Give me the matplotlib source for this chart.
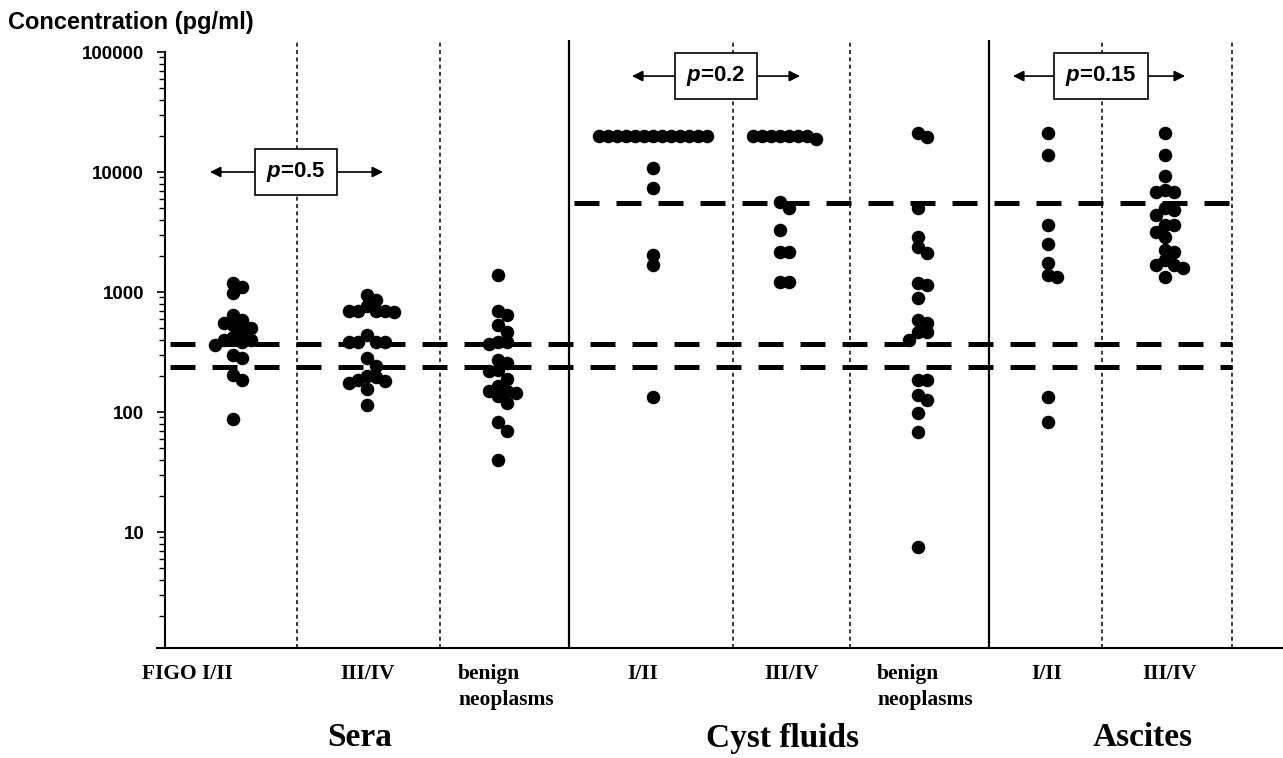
import matplotlib.pyplot as plt
import numpy as np
from matplotlib.ticker import FixedLocator, LogLocator, NullFormatter

plt.rcParams['font.family'] = 'Liberation Sans'
plt.rcParams['mathtext.fontset'] = 'custom'
plt.rcParams['mathtext.it'] = 'Liberation Sans:italic:bold'
plt.rcParams['mathtext.rm'] = 'Liberation Sans:bold'

# values (pg/ml)
sera_I_II = [1180, 1100, 980, 640, 590, 550, 530, 500, 470, 420, 400, 400, 380,
             360, 300, 280, 205, 185, 88]
sera_III_IV = [950, 850, 760, 680, 700, 700, 700, 700, 440, 380, 380, 380, 380,
               280, 240, 200, 195, 185, 180, 175, 155, 115]
sera_benign = [1380, 700, 640, 530, 460, 380, 380, 370, 270, 255, 225, 220, 190,
               165, 150, 150, 145, 135, 120, 83, 70, 40]
cyst_I_II = [20000] * 13 + [10800, 7400, 2050, 1680, 133]
cyst_III_IV = [20000] * 7 + [19000, 5600, 5000, 3300, 2150, 2150, 1210, 1210]
cyst_benign = [21000, 19500, 5000, 2900, 2370, 2100, 1200, 1140, 890, 590, 550,
               460, 460, 400, 185, 185, 138, 126, 98, 68, 7.5]
ascites_I_II = [21000, 13800, 3600, 2500, 1740, 1380, 1330, 133, 82]
ascites_III_IV = [21000, 13800, 9300, 7100, 6800, 6800, 5000, 4800, 4400, 3600,
                  3600, 3150, 2870, 2220, 2150, 1860, 1680, 1680, 1580, 1330]

groups = [sera_I_II, sera_III_IV, sera_benign, cyst_I_II, cyst_III_IV,
          cyst_benign, ascites_I_II, ascites_III_IV]
cat_labels = ['FIGO I/II', 'III/IV', 'benign\nneoplasms', 'I/II', 'III/IV',
              'benign\nneoplasms', 'I/II', 'III/IV']
section_labels = ['Sera', 'Cyst fluids', 'Ascites']
cutoffs = [370, 235, 5500]
p_values = ['0.5', '0.2', '0.15']
p_levels = [10000, 63000, 63000]

# layout (x in pixel-like units)
W, H = 1283, 758
centers = [233, 367, 498, 653, 780, 918, 1048, 1165]
label_x = [187, 368, 458, 643, 792, 877, 1047, 1170]
label_ha = ['center', 'center', 'left', 'center', 'center', 'left', 'center', 'center']
section_x = [360, 783, 1143]
dotted_x = [297, 440, 733, 850, 1102, 1232]
solid_x = [569, 989]
cutoff_span = [(165, 1232), (165, 1232), (569, 1232)]
p_x = [296, 716, 1101]
p_tips = [(210, 383), (632, 800), (1013, 1185)]

fig = plt.figure(figsize=(W / 100, H / 100), dpi=100)
ax = fig.add_axes([157 / W, (H - 648) / H, 1 - 157 / W, (648 - 40) / H])
y_lo, y_hi = 1.08, 10 ** 5.1
ax.set_xlim(157, W)
ax.set_yscale('log')
ax.set_ylim(y_lo, y_hi)

px_per_dec = (648 - 40) / (np.log10(y_hi) - np.log10(y_lo))


def swarm(vals, center, step=9.0):
    placed = []
    xs = []
    for v in vals:
        yp = np.log10(v) * px_per_dec
        k = 0
        while True:
            off = ((k + 1) // 2) * step * (1 if k % 2 else -1)
            if all((off - a) ** 2 + (yp - b) ** 2 >= step ** 2 - 0.01 for a, b in placed):
                break
            k += 1
        placed.append((off, yp))
        xs.append(center + off)
    return xs


for vals, c in zip(groups, centers):
    vals = sorted(vals, reverse=True)
    ax.scatter(swarm(vals, c), vals, s=95, c='black', lw=0, zorder=4)

for x in dotted_x:
    ax.axvline(x, color='black', lw=1.1, ls=(0, (2.6, 2.2)), zorder=1)
for x in solid_x:
    ax.axvline(x, color='black', lw=1.6, zorder=1)

for v, (x0, x1) in zip(cutoffs, cutoff_span):
    ax.plot([x0 + 5, x1], [v, v], color='black', lw=3.6, ls=(0, (5, 3.4)),
            solid_capstyle='butt', dash_capstyle='butt', zorder=3)

for p, lvl, x, (t0, t1) in zip(p_values, p_levels, p_x, p_tips):
    for t in (t0, t1):
        ax.annotate('', xy=(t, lvl), xytext=(x, lvl),
                    arrowprops=dict(arrowstyle='-|>', color='black', lw=1.2,
                                    mutation_scale=16, shrinkA=0, shrinkB=0),
                    zorder=5)
    ax.text(x, lvl, f'$p$={p}', ha='center', va='center', fontsize=16,
            fontweight='bold', zorder=6,
            bbox=dict(boxstyle='square,pad=0.5', fc='white', ec='black', lw=1.2))

for s in ['top', 'right']:
    ax.spines[s].set_visible(False)
ax.spines['left'].set_position(('data', 165))
ax.spines['left'].set_bounds(y_lo, 1e5)
ax.spines['left'].set_linewidth(1.5)
ax.spines['bottom'].set_linewidth(1.5)
ax.set_xticks([])

ax.yaxis.set_major_locator(FixedLocator([10, 100, 1000, 10000, 100000]))
ax.yaxis.set_minor_locator(LogLocator(subs=np.arange(2, 10)))
ax.yaxis.set_minor_formatter(NullFormatter())
ax.set_yticklabels(['10', '100', '1000', '10000', '100000'])
ax.tick_params(axis='y', which='major', length=6, width=1.2, pad=9, labelsize=13.5)
ax.tick_params(axis='y', which='minor', length=4, width=1.0)
for lab in ax.get_yticklabels():
    lab.set_fontweight('bold')

fig.text(8 / W, 1 - 22 / H, 'Concentration (pg/ml)', fontsize=17,
         fontweight='bold', va='center', ha='left')

for lab, x, ha in zip(cat_labels, label_x, label_ha):
    fig.text(ax.transData.transform((x, 1))[0] / W, 1 - 664 / H, lab, ha=ha,
             va='top', fontsize=15.5, fontweight='bold', family='Liberation Serif',
             linespacing=1.4, multialignment='left')

for lab, x in zip(section_labels, section_x):
    fig.text(ax.transData.transform((x, 1))[0] / W, 1 - 738 / H, lab, ha='center',
             va='center', fontsize=24, fontweight='bold', family='Liberation Serif')

fig.savefig('out.png', dpi=100)
